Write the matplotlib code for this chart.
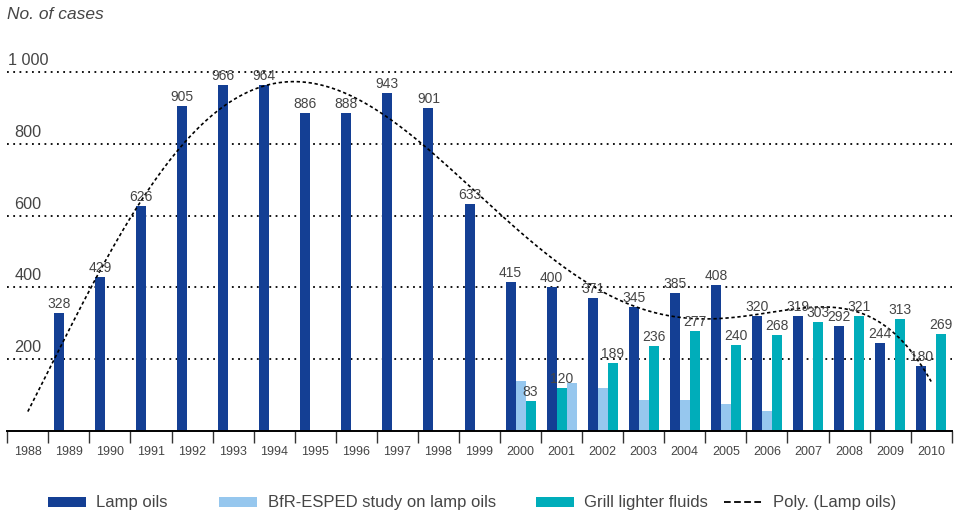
import matplotlib
matplotlib.use("Agg")
import matplotlib.pyplot as plt
import numpy as np
from matplotlib.patches import Rectangle
from matplotlib.lines import Line2D

plt.rcParams["font.family"] = ["Liberation Sans", "DejaVu Sans"]

# ---- data -------------------------------------------------------------
years = list(range(1988, 2011))
lamp_oils = [0, 328, 429, 626, 905, 966, 964, 886, 888, 943, 901, 633,
             415, 400, 371, 345, 385, 408, 320, 319, 292, 244, 180]
bfr_esped = [0] * 12 + [140, 132, 119, 86, 86, 75, 55] + [0] * 4
grill_fluids = [0] * 12 + [83, 120, 189, 236, 277, 240, 268, 303, 321, 313, 269]
y_ticks = [200, 400, 600, 800, 1000]
y_tick_labels = ["200", "400", "600", "800", "1 000"]
legend_labels = ["Lamp oils", "BfR-ESPED study on lamp oils",
                 "Grill lighter fluids", "Poly. (Lamp oils)"]

# ---- styling ----------------------------------------------------------
C_LAMP = "#143f94"
C_BFR = "#96c7ee"
C_GRILL = "#00adba"
TXT = "#454545"

W, H = 959, 515
fig = plt.figure(figsize=(W / 100, H / 100), dpi=100)

slot_px = (951.7 - 7.3) / 23
ymax = 1100
px_per_unit = 0.3583
ax = fig.add_axes([7.3 / W, 1 - 430.7 / H, (951.7 - 7.3) / W,
                   ymax * px_per_unit / H])
ax.set_xlim(-0.5, len(years) - 0.5)
ax.set_ylim(0, ymax)

bw = 10 / slot_px
x = np.arange(len(years))

# slot of each series inside a year group (0 = left, 1 = middle, 2 = right)
default_order = {"lamp": 0, "bfr": 1, "grill": 2}
swapped_order = {2001: {"lamp": 0, "grill": 1, "bfr": 2}}


def offsets(key):
    return np.array([(swapped_order.get(yr, default_order)[key] - 1) * bw
                     for yr in years])


series = [("lamp", lamp_oils, C_LAMP), ("bfr", bfr_esped, C_BFR),
          ("grill", grill_fluids, C_GRILL)]
pos = {}
for key, vals, col in series:
    pos[key] = x + offsets(key)
    ax.bar(pos[key], vals, width=bw, color=col, zorder=2, linewidth=0)

# value labels on lamp oils and grill lighter fluids
for key, vals in (("lamp", lamp_oils), ("grill", grill_fluids)):
    for xp, v in zip(pos[key], vals):
        if v > 0:
            ax.annotate(str(v), (xp, v), xytext=(0, 3.6),
                        textcoords="offset points", ha="center",
                        va="baseline", fontsize=10, color=TXT, zorder=4,
                        annotation_clip=False)

# dotted horizontal grid and value-axis labels
for v, lab in zip(y_ticks, y_tick_labels):
    ax.axhline(v, color="black", lw=1.3, linestyle=(0, (1, 2.46)), zorder=0.5)
    ax.annotate(lab, (0, v), xytext=(0, 5), textcoords="offset points",
                ha="center", va="baseline", fontsize=11.7, color=TXT)

# 5th-order polynomial trend of lamp oils over the reported years,
# projected back one period to the first category
xn = np.arange(1, len(years) + 1)
lamp_arr = np.array(lamp_oils, dtype=float)
has_val = lamp_arr > 0
coef = np.polyfit(xn[has_val], lamp_arr[has_val], 5)
xs = np.linspace(1, len(years), 400)
ax.plot(xs - 1, np.polyval(coef, xs), color="black", lw=1.2,
        linestyle=(0, (2, 1.6)), zorder=3)

# axes decoration
for s in ("left", "right", "top"):
    ax.spines[s].set_visible(False)
ax.spines["bottom"].set_color("black")
ax.spines["bottom"].set_linewidth(1.4)
ax.set_yticks([])
ax.set_xticks(x)
ax.set_xticklabels([str(y) for y in years], fontsize=9, color=TXT)
ax.tick_params(axis="x", which="major", length=0, pad=11)
ax.set_xticks(np.arange(-0.5, len(years), 1), minor=True)
ax.tick_params(axis="x", which="minor", length=8.6, width=1, color="#333333",
               direction="out")

fig.text(7 / W, 1 - 7 / H, "No. of cases", style="italic", fontsize=12.5,
         color=TXT, va="top", ha="left")

# legend row along the bottom
patch_x = [48.3, 219.0, 536.0]
patch_cols = [C_LAMP, C_BFR, C_GRILL]
text_x = [96.0, 267.7, 584.3, 773.3]
for px, col in zip(patch_x, patch_cols):
    fig.add_artist(Rectangle((px / W, 1 - 507 / H), 38 / W, 10 / H,
                             transform=fig.transFigure, color=col, lw=0))
fig.add_artist(Line2D([724.3 / W, 761.7 / W], [1 - 502 / H, 1 - 502 / H],
                      transform=fig.transFigure, color="black", lw=1.3,
                      linestyle=(0, (3.7, 1.9))))
for tx, lab in zip(text_x, legend_labels):
    fig.text(tx / W, 1 - 507.3 / H, lab, fontsize=12, color=TXT,
             va="baseline", ha="left")

fig.savefig("out.png", dpi=100)
